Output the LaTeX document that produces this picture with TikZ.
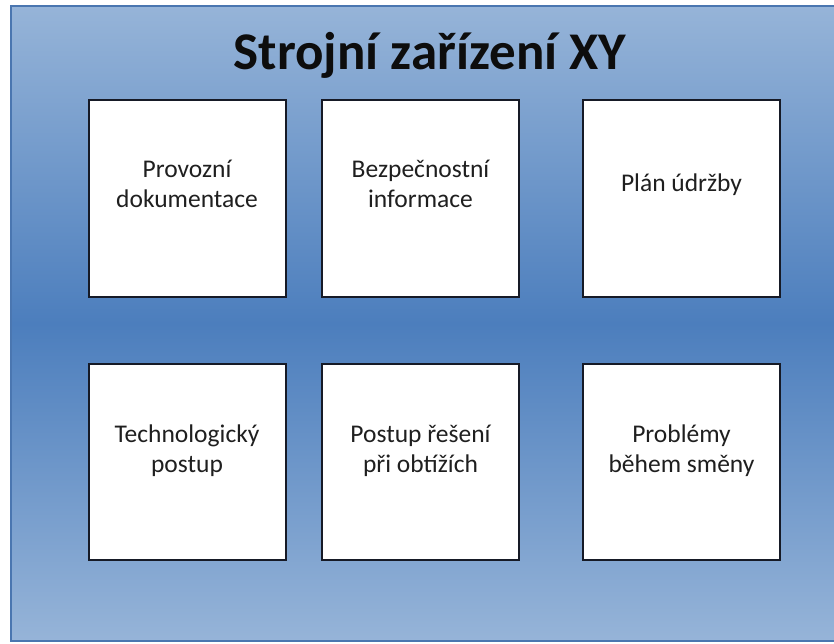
\documentclass[tikz,border=0pt]{standalone}
\usepackage{fontspec}
\setmainfont{Carlito}
\definecolor{panelLight}{RGB}{150,180,216}
\definecolor{panelDark}{RGB}{76,126,189}
\definecolor{panelEdge}{RGB}{74,118,176}
\definecolor{boxEdge}{RGB}{22,26,38}
\tikzset{
  panel/.style={draw=panelEdge, line width=2pt, top color=panelLight,
    bottom color=panelLight, middle color=panelDark},
  card/.style={draw=boxEdge, fill=white, line width=2pt, minimum width=197pt,
    minimum height=196pt, inner sep=0pt},
  cardtext/.style={align=center, font=\fontsize{25.5}{30}\selectfont,
    text=black!88, inner sep=0pt},
  heading/.style={font=\fontsize{53}{60}\selectfont\bfseries, text=black!95,
    inner sep=0pt, anchor=base}
}
\begin{document}
\begin{tikzpicture}[x=1pt, y=-1pt]
  \useasboundingbox (0,0) rectangle (834,644);
  % background panel
  \path[panel] (11,6) rectangle (835,641);
  % title
  \node[heading] (title) at (430,70) {Strojní zařízení XY};
  % six cards
  \node[card] (c1) at (187,198.5) {};
  \node[card] (c2) at (420.5,198.5) {};
  \node[card] (c3) at (681.5,198.5) {};
  \node[card] (c4) at (187,462) {};
  \node[card] (c5) at (420.5,462) {};
  \node[card] (c6) at (681.5,462) {};
  % card captions
  \node[cardtext] (t1) at ([yshift=15pt]c1.center) {Provozní\\dokumentace};
  \node[cardtext] (t2) at ([yshift=15pt]c2.center) {Bezpečnostní\\informace};
  \node[cardtext] (t3) at ([yshift=14pt]c3.center) {Plán údržby};
  \node[cardtext] (t4) at ([yshift=11pt]c4.center) {Technologický\\postup};
  \node[cardtext] (t5) at ([yshift=11pt]c5.center) {Postup řešení\\při obtížích};
  \node[cardtext] (t6) at ([yshift=11pt]c6.center) {Problémy\\během směny};
\end{tikzpicture}
\end{document}
